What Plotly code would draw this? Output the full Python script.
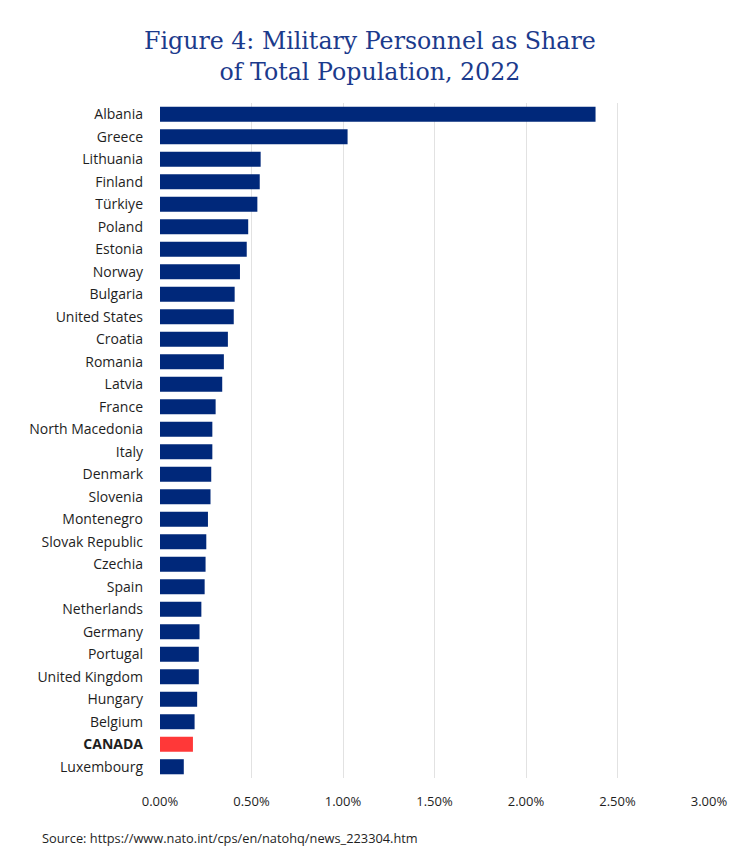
import plotly.graph_objects as go

# NATO member states, sorted high to low
countries = ["Albania", "Greece", "Lithuania", "Finland", "Türkiye", "Poland",
             "Estonia", "Norway", "Bulgaria", "United States", "Croatia",
             "Romania", "Latvia", "France", "North Macedonia", "Italy",
             "Denmark", "Slovenia", "Montenegro", "Slovak Republic", "Czechia",
             "Spain", "Netherlands", "Germany", "Portugal", "United Kingdom",
             "Hungary", "Belgium", "CANADA", "Luxembourg"]

# military personnel as % of total population
share_pct = [2.38, 1.025, 0.55, 0.545, 0.532, 0.482,
             0.474, 0.437, 0.408, 0.403, 0.371,
             0.349, 0.340, 0.304, 0.286, 0.286,
             0.280, 0.276, 0.262, 0.253, 0.249,
             0.244, 0.226, 0.216, 0.212, 0.212,
             0.203, 0.189, 0.180, 0.130]

x_ticks = [0, 0.5, 1.0, 1.5, 2.0, 2.5, 3.0]
x_tick_labels = ["0.00%", "0.50%", "1.00%", "1.50%", "2.00%", "2.50%", "3.00%"]

navy = "#00287a"
red = "#ff3838"
colors = [red if c == "CANADA" else navy for c in countries]
y_labels = ["<b>CANADA</b>" if c == "CANADA" else c for c in countries]

fig = go.Figure(go.Bar(
    x=share_pct,
    y=countries,
    orientation="h",
    marker=dict(color=colors, line=dict(width=0)),
))

# page body adds an 8px offset, margins compensate
fig.update_layout(
    width=740, height=863,
    margin=dict(l=152, r=39, t=95, b=93),
    plot_bgcolor="white",
    paper_bgcolor="white",
    bargap=0.33,
    showlegend=False,
    font=dict(family="Open Sans", size=14, color="#1e1e1e"),
)

fig.add_annotation(
    text="Figure 4: Military Personnel as Share<br>of Total Population, 2022",
    xref="paper", yref="paper", x=0.3825, y=1.0696,
    xanchor="center", yanchor="middle", showarrow=False,
    font=dict(family="DejaVu Serif", size=23.7, color="#1b3a8c"),
)

fig.update_xaxes(
    range=[0, 3.0],
    tickvals=x_ticks,
    ticktext=x_tick_labels,
    showgrid=True, gridcolor="#e2e2e2", gridwidth=1,
    zeroline=False, showline=False,
    ticks="", ticklabelstandoff=14,
    tickfont=dict(size=13, color="#1e1e1e"),
)
fig.update_yaxes(
    autorange="reversed",
    tickvals=countries,
    ticktext=y_labels,
    ticks="", showline=False, showgrid=False,
    ticklabelstandoff=16,
    tickfont=dict(size=14, color="#1e1e1e"),
)

fig.add_annotation(
    text="Source: https://www.nato.int/cps/en/natohq/news_223304.htm",
    xref="paper", yref="paper", x=-0.2186, y=-0.0889,
    xanchor="left", yanchor="middle", showarrow=False,
    font=dict(family="Open Sans", size=12.8, color="#1e1e1e"),
)

fig.write_html("out.html")
